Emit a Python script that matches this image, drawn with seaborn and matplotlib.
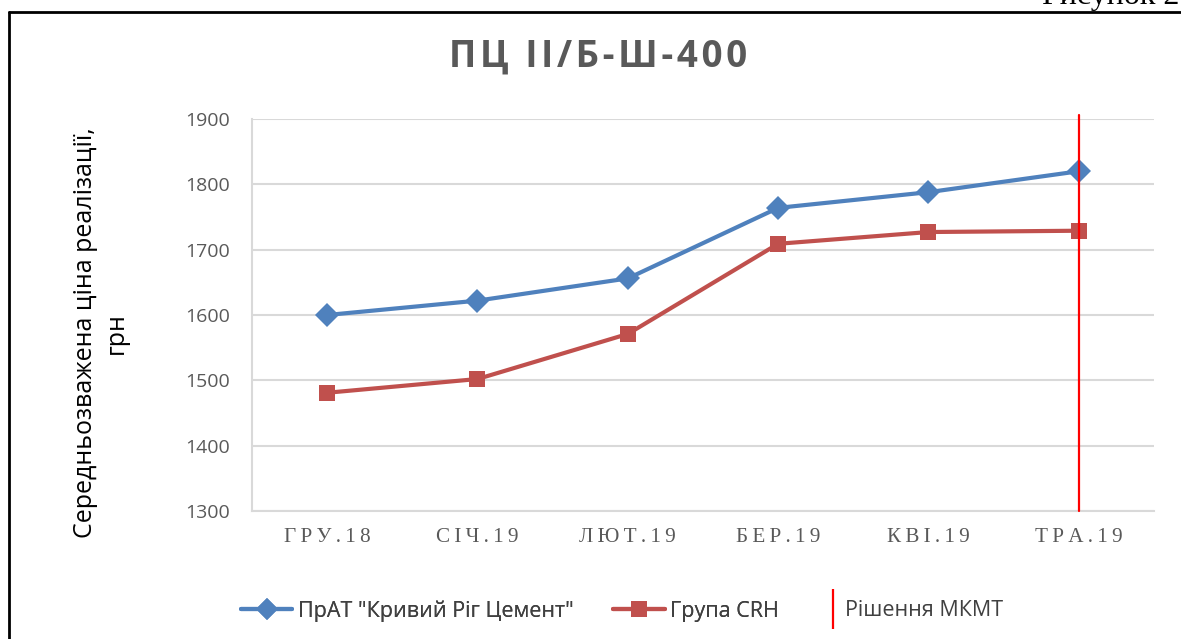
import pandas as pd
import matplotlib.pyplot as plt
import seaborn as sns
from matplotlib.lines import Line2D

# Дані з графіка
MONTHS = ["ГРУ.18", "СІЧ.19", "ЛЮТ.19", "БЕР.19", "КВІ.19", "ТРА.19"]
KRC = [1600, 1622, 1656, 1764, 1788, 1820]
CRH = [1481, 1502, 1571, 1709, 1727, 1729]
SERIES_NAMES = ['ПрАТ "Кривий Ріг Цемент"', "Група CRH"]
DECISION_MONTH = "ТРА.19"
DECISION_LABEL = "Рішення МКМТ"
TITLE = "ПЦ II/Б-Ш-400"
YLABEL = "Середньозважена ціна реалізації,\nгрн"
YTICKS = [1300, 1400, 1500, 1600, 1700, 1800, 1900]


def spaced(s, sp="\u200a"):
    # розрідження літер, як у підписах Excel
    return sp.join(s)


df = pd.DataFrame({
    "month": MONTHS * 2,
    "price": KRC + CRH,
    "series": [SERIES_NAMES[0]] * len(MONTHS) + [SERIES_NAMES[1]] * len(MONTHS),
})

sns.set_style("white")
plt.rcParams["font.family"] = ["Open Sans", "DejaVu Sans"]

W, H = 1181, 639
fig = plt.figure(figsize=(W / 100, H / 100), dpi=100)
ax = fig.add_axes([252 / W, 1 - 511 / H, 902 / W, 392 / H])

BLUE = "#4F81BD"
RED = "#C0504D"
sns.lineplot(data=df, x="month", y="price", hue="series", style="series",
             palette=[BLUE, RED], markers=["D", "s"], dashes=False,
             sort=False, linewidth=3, markersize=12, markeredgewidth=0,
             ax=ax, legend=False)

dec_x = MONTHS.index(DECISION_MONTH)
ax.axvline(dec_x, ymin=0, ymax=1.01, color="#FF0000", linewidth=1.6,
           clip_on=False, zorder=5)

ax.set_xlim(-0.5, len(MONTHS) - 0.5)
ax.set_ylim(YTICKS[0], YTICKS[-1])
ax.set_yticks(YTICKS)
ax.grid(axis="y", color="#D9D9D9", linewidth=1.5)
ax.grid(axis="x", visible=False)
for s in ["top", "right"]:
    ax.spines[s].set_visible(False)
for s in ["left", "bottom"]:
    ax.spines[s].set_color("#D9D9D9")
    ax.spines[s].set_linewidth(1.5)
ax.tick_params(axis="y", length=0, pad=16, labelsize=14, labelcolor="#595959")
ax.tick_params(axis="x", length=0, pad=12)
ax.set_xticks(range(len(MONTHS)))
ax.set_xticklabels([spaced(m, "\u2009") for m in MONTHS],
                   family=["Liberation Serif", "DejaVu Serif"], fontsize=15.2, color="#595959")
ax.set_xlabel("")
ax.set_ylabel("")

fig.text(101 / W, 1 - 333 / H, YLABEL, rotation=90, ha="center", va="center",
         fontsize=18, color="black", linespacing=1.3, multialignment="center")

fig.text(0.5 * (452 + 745) / W, 1 - 57 / H, spaced(TITLE), ha="center", va="center",
         fontsize=26.5, fontweight="bold", color="#595959")

series_handles = [
    Line2D([], [], color=BLUE, linewidth=3, marker="D", markersize=11, markeredgewidth=0),
    Line2D([], [], color=RED, linewidth=3, marker="s", markersize=12, markeredgewidth=0),
]
leg1 = fig.legend(series_handles, SERIES_NAMES, loc="center",
                  bbox_to_anchor=(510 / W, 1 - 611 / H), ncol=2, frameon=False,
                  fontsize=15.5, labelcolor="#404040", handlelength=2.4,
                  handletextpad=0.25, columnspacing=1.85)
fig.add_artist(leg1)
dec_handle = Line2D([], [], color="#FF0000", linestyle="none", marker="|",
                    markersize=29, markeredgewidth=1.6)
fig.legend([dec_handle], [DECISION_LABEL], loc="center",
           bbox_to_anchor=(914 / W, 1 - 611 / H), frameon=False,
           fontsize=15.5, labelcolor="#404040", handlelength=0.8, handletextpad=0.15)

# Рамка рисунка
fig.add_artist(Line2D([9 / W, 9 / W], [0, 1 - 11.5 / H], color="black", linewidth=2,
                      transform=fig.transFigure))
fig.add_artist(Line2D([9 / W, 1], [1 - 11.5 / H, 1 - 11.5 / H], color="black", linewidth=2,
                      transform=fig.transFigure))
fig.text(1042 / W, 1 - 4 / H, "Рисунок 2", ha="left", va="baseline",
         family="Liberation Serif", fontsize=23, color="black")

fig.savefig("out.png", dpi=100)
